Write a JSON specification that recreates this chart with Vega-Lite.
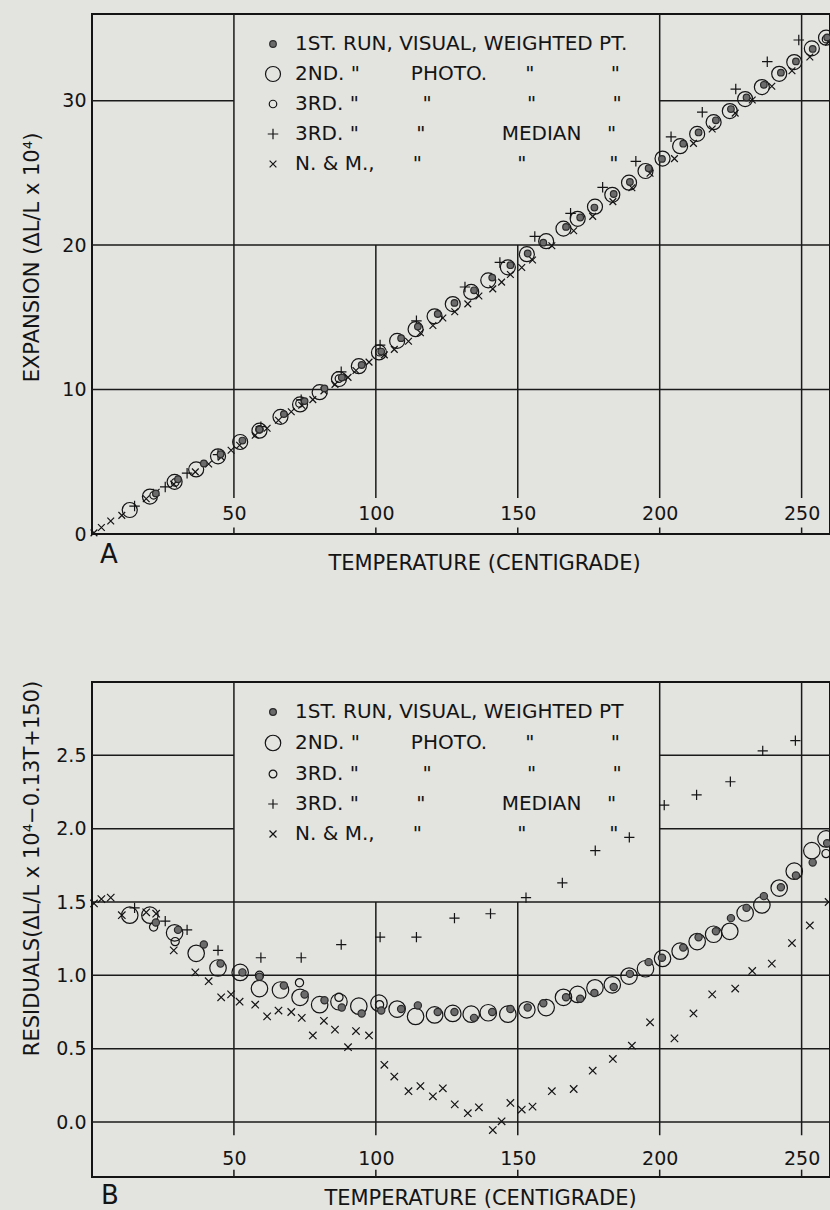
{
"$schema": "https://vega.github.io/schema/vega-lite/v6.json",
"background": "#e3e3e0",
"padding": {"left": 19, "top": 12, "right": 2, "bottom": 0},
"spacing": 148,
"bounds": "flush",
"config": {
  "font": "DejaVu Sans",
  "view": {"stroke": "#141414", "strokeWidth": 2},
  "axis": {"labelFont": "DejaVu Sans", "labelFontSize": 19, "labelColor": "#141414", "titleFont": "DejaVu Sans", "titleFontSize": 21, "titleFontWeight": "normal", "titleColor": "#141414", "grid": false, "ticks": false, "tickSize": 0, "domain": false},
  "legend": {"labelFont": "DejaVu Sans", "labelFontSize": 20, "labelColor": "#141414", "labelLimit": 700, "padding": 0, "rowPadding": 10, "labelOffset": 12, "symbolStrokeWidth": 1.2, "symbolOpacity": 1}
},
"resolve": {"scale": {"shape": "independent", "fill": "independent", "stroke": "independent"}, "legend": {"shape": "independent", "fill": "independent", "stroke": "independent"}},
"datasets": {
  "gridA": [
    {"x1": 50, "x2": 50, "y1": 2.5, "y2": 36}, {"x1": 100, "x2": 100, "y1": 2.5, "y2": 20}, {"x1": 150, "x2": 150, "y1": 2.5, "y2": 20}, {"x1": 200, "x2": 200, "y1": 2.5, "y2": 36}, {"x1": 250, "x2": 250, "y1": 2.5, "y2": 36},
    {"x1": 50, "x2": 50, "y1": 0, "y2": 0.45}, {"x1": 100, "x2": 100, "y1": 0, "y2": 0.45}, {"x1": 150, "x2": 150, "y1": 0, "y2": 0.45}, {"x1": 200, "x2": 200, "y1": 0, "y2": 0.45}, {"x1": 250, "x2": 250, "y1": 0, "y2": 0.45},
    {"x1": 0, "x2": 260, "y1": 10, "y2": 10}, {"x1": 0, "x2": 260, "y1": 20, "y2": 20}, {"x1": 0, "x2": 50, "y1": 30, "y2": 30}, {"x1": 200, "x2": 260, "y1": 30, "y2": 30}
  ],
  "gridB": [
    {"x1": 50, "x2": 50, "y1": -0.09, "y2": 3.0}, {"x1": 100, "x2": 100, "y1": -0.09, "y2": 1.5}, {"x1": 150, "x2": 150, "y1": -0.09, "y2": 1.5}, {"x1": 200, "x2": 200, "y1": -0.09, "y2": 3.0}, {"x1": 250, "x2": 250, "y1": -0.09, "y2": 3.0},
    {"x1": 50, "x2": 50, "y1": -0.375, "y2": -0.325}, {"x1": 100, "x2": 100, "y1": -0.375, "y2": -0.325}, {"x1": 150, "x2": 150, "y1": -0.375, "y2": -0.325}, {"x1": 200, "x2": 200, "y1": -0.375, "y2": -0.325}, {"x1": 250, "x2": 250, "y1": -0.375, "y2": -0.325},
    {"x1": 0, "x2": 260, "y1": 0, "y2": 0}, {"x1": 0, "x2": 260, "y1": 0.5, "y2": 0.5}, {"x1": 0, "x2": 260, "y1": 1.0, "y2": 1.0}, {"x1": 0, "x2": 260, "y1": 1.5, "y2": 1.5},
    {"x1": 0, "x2": 50, "y1": 2.0, "y2": 2.0}, {"x1": 200, "x2": 260, "y1": 2.0, "y2": 2.0}, {"x1": 0, "x2": 50, "y1": 2.5, "y2": 2.5}, {"x1": 200, "x2": 260, "y1": 2.5, "y2": 2.5}
  ],
  "ptsA": [
    {"s":"2nd","t":13.3,"v":1.66},{"s":"2nd","t":20.4,"v":2.59},{"s":"2nd","t":29.1,"v":3.61},{"s":"2nd","t":36.7,"v":4.47},{"s":"2nd","t":44.4,"v":5.38},{"s":"2nd","t":52.2,"v":6.37},{"s":"2nd","t":59.0,"v":7.15},{"s":"2nd","t":66.4,"v":8.11},{"s":"2nd","t":73.3,"v":8.97},{"s":"2nd","t":80.2,"v":9.82},{"s":"2nd","t":87.0,"v":10.73},{"s":"2nd","t":94.0,"v":11.62},{"s":"2nd","t":101.1,"v":12.57},{"s":"2nd","t":107.5,"v":13.37},{"s":"2nd","t":114.0,"v":14.18},{"s":"2nd","t":120.7,"v":15.07},{"s":"2nd","t":127.1,"v":15.92},{"s":"2nd","t":133.6,"v":16.76},{"s":"2nd","t":139.6,"v":17.56},{"s":"2nd","t":146.5,"v":18.46},{"s":"2nd","t":153.2,"v":19.37},{"s":"2nd","t":160.0,"v":20.27},{"s":"2nd","t":166.1,"v":21.14},{"s":"2nd","t":171.1,"v":21.82},{"s":"2nd","t":177.2,"v":22.66},{"s":"2nd","t":183.3,"v":23.48},{"s":"2nd","t":189.2,"v":24.32},{"s":"2nd","t":195.0,"v":25.13},{"s":"2nd","t":201.0,"v":25.99},{"s":"2nd","t":207.2,"v":26.85},{"s":"2nd","t":213.2,"v":27.70},{"s":"2nd","t":219.0,"v":28.51},{"s":"2nd","t":224.7,"v":29.28},{"s":"2nd","t":230.1,"v":30.11},{"s":"2nd","t":236.0,"v":30.94},{"s":"2nd","t":242.1,"v":31.86},{"s":"2nd","t":247.4,"v":32.67},{"s":"2nd","t":253.6,"v":33.62},{"s":"2nd","t":258.6,"v":34.36},
    {"s":"3rdp","t":21.7,"v":2.68},{"s":"3rdp","t":29.3,"v":3.57},{"s":"3rdp","t":59.0,"v":7.24},{"s":"3rdp","t":73.1,"v":9.04},{"s":"3rdp","t":87.0,"v":10.76},{"s":"3rdp","t":101.3,"v":12.59},{"s":"3rdp","t":258.6,"v":34.26},
    {"s":"nm","t":0.7,"v":0.08},{"s":"nm","t":3.3,"v":0.45},{"s":"nm","t":6.6,"v":0.90},{"s":"nm","t":10.5,"v":1.29},{"s":"nm","t":19.1,"v":2.44},{"s":"nm","t":22.6,"v":2.89},{"s":"nm","t":28.8,"v":3.45},{"s":"nm","t":36.4,"v":4.30},{"s":"nm","t":41.1,"v":4.85},{"s":"nm","t":45.5,"v":5.32},{"s":"nm","t":49.0,"v":5.80},{"s":"nm","t":52.0,"v":6.14},{"s":"nm","t":57.5,"v":6.84},{"s":"nm","t":61.7,"v":7.32},{"s":"nm","t":65.7,"v":7.88},{"s":"nm","t":70.2,"v":8.46},{"s":"nm","t":73.9,"v":8.91},{"s":"nm","t":77.8,"v":9.30},{"s":"nm","t":81.7,"v":9.91},{"s":"nm","t":85.6,"v":10.36},{"s":"nm","t":90.2,"v":10.84},{"s":"nm","t":93.0,"v":11.32},{"s":"nm","t":97.6,"v":11.90},{"s":"nm","t":103.0,"v":12.40},{"s":"nm","t":106.5,"v":12.78},{"s":"nm","t":111.5,"v":13.34},{"s":"nm","t":115.7,"v":13.93},{"s":"nm","t":120.1,"v":14.43},{"s":"nm","t":123.6,"v":14.95},{"s":"nm","t":127.8,"v":15.39},{"s":"nm","t":132.4,"v":15.93},{"s":"nm","t":136.3,"v":16.48},{"s":"nm","t":141.2,"v":16.97},{"s":"nm","t":144.3,"v":17.44},{"s":"nm","t":147.4,"v":17.97},{"s":"nm","t":151.4,"v":18.45},{"s":"nm","t":155.2,"v":18.97},{"s":"nm","t":162.0,"v":19.96},{"s":"nm","t":169.7,"v":20.99},{"s":"nm","t":176.4,"v":21.99},{"s":"nm","t":183.5,"v":23.01},{"s":"nm","t":190.2,"v":23.97},{"s":"nm","t":196.6,"v":24.97},{"s":"nm","t":205.2,"v":25.99},{"s":"nm","t":211.9,"v":27.04},{"s":"nm","t":218.5,"v":28.04},{"s":"nm","t":226.6,"v":29.14},{"s":"nm","t":232.6,"v":30.05},{"s":"nm","t":239.5,"v":31.00},{"s":"nm","t":246.6,"v":32.07},{"s":"nm","t":252.9,"v":33.02},{"s":"nm","t":259.5,"v":34.05},
    {"s":"med","t":15.0,"v":1.93},{"s":"med","t":25.8,"v":3.26},{"s":"med","t":33.5,"v":4.21},{"s":"med","t":44.4,"v":5.50},{"s":"med","t":59.5,"v":7.43},{"s":"med","t":73.7,"v":9.29},{"s":"med","t":87.8,"v":11.23},{"s":"med","t":101.5,"v":13.08},{"s":"med","t":114.3,"v":14.76},{"s":"med","t":131.4,"v":17.1},{"s":"med","t":143.7,"v":18.8},{"s":"med","t":156.0,"v":20.6},{"s":"med","t":168.6,"v":22.2},{"s":"med","t":179.9,"v":24.0},{"s":"med","t":191.6,"v":25.8},{"s":"med","t":204.0,"v":27.5},{"s":"med","t":215.0,"v":29.2},{"s":"med","t":226.8,"v":30.8},{"s":"med","t":237.9,"v":32.7},{"s":"med","t":249.0,"v":34.2},
    {"s":"1st","t":22.5,"v":2.81},{"s":"1st","t":30.3,"v":3.79},{"s":"1st","t":39.4,"v":4.88},{"s":"1st","t":45.3,"v":5.52},{"s":"1st","t":53.0,"v":6.47},{"s":"1st","t":59.0,"v":7.23},{"s":"1st","t":67.6,"v":8.30},{"s":"1st","t":74.9,"v":9.20},{"s":"1st","t":81.9,"v":10.08},{"s":"1st","t":88.0,"v":10.83},{"s":"1st","t":95.0,"v":11.70},{"s":"1st","t":101.9,"v":12.63},{"s":"1st","t":108.9,"v":13.56},{"s":"1st","t":114.8,"v":14.36},{"s":"1st","t":121.8,"v":15.23},{"s":"1st","t":127.7,"v":16.00},{"s":"1st","t":134.6,"v":16.87},{"s":"1st","t":141.0,"v":17.75},{"s":"1st","t":147.4,"v":18.61},{"s":"1st","t":153.5,"v":19.42},{"s":"1st","t":159.0,"v":20.17},{"s":"1st","t":167.0,"v":21.26},{"s":"1st","t":172.0,"v":21.91},{"s":"1st","t":177.0,"v":22.60},{"s":"1st","t":183.8,"v":23.54},{"s":"1st","t":189.5,"v":24.37},{"s":"1st","t":196.1,"v":25.32},{"s":"1st","t":200.8,"v":25.97},{"s":"1st","t":208.3,"v":27.02},{"s":"1st","t":213.7,"v":27.80},{"s":"1st","t":219.8,"v":28.64},{"s":"1st","t":225.1,"v":29.42},{"s":"1st","t":230.6,"v":30.22},{"s":"1st","t":236.7,"v":31.10},{"s":"1st","t":242.7,"v":31.94},{"s":"1st","t":248.0,"v":32.72},{"s":"1st","t":253.9,"v":33.58},{"s":"1st","t":259.0,"v":34.38}
  ],
  "ptsB": [
    {"s":"2nd","t":13.3,"v":1.41},{"s":"2nd","t":20.4,"v":1.41},{"s":"2nd","t":29.1,"v":1.29},{"s":"2nd","t":36.7,"v":1.15},{"s":"2nd","t":44.4,"v":1.05},{"s":"2nd","t":52.2,"v":1.02},{"s":"2nd","t":59.0,"v":0.91},{"s":"2nd","t":66.4,"v":0.90},{"s":"2nd","t":73.3,"v":0.85},{"s":"2nd","t":80.2,"v":0.80},{"s":"2nd","t":87.0,"v":0.82},{"s":"2nd","t":94.0,"v":0.79},{"s":"2nd","t":101.1,"v":0.81},{"s":"2nd","t":107.5,"v":0.77},{"s":"2nd","t":114.0,"v":0.72},{"s":"2nd","t":120.7,"v":0.73},{"s":"2nd","t":127.1,"v":0.74},{"s":"2nd","t":133.6,"v":0.735},{"s":"2nd","t":139.6,"v":0.745},{"s":"2nd","t":146.5,"v":0.735},{"s":"2nd","t":153.2,"v":0.765},{"s":"2nd","t":160.0,"v":0.78},{"s":"2nd","t":166.1,"v":0.85},{"s":"2nd","t":171.1,"v":0.87},{"s":"2nd","t":177.2,"v":0.915},{"s":"2nd","t":183.3,"v":0.935},{"s":"2nd","t":189.2,"v":0.995},{"s":"2nd","t":195.0,"v":1.045},{"s":"2nd","t":201.0,"v":1.115},{"s":"2nd","t":207.2,"v":1.165},{"s":"2nd","t":213.2,"v":1.23},{"s":"2nd","t":219.0,"v":1.28},{"s":"2nd","t":224.7,"v":1.30},{"s":"2nd","t":230.1,"v":1.425},{"s":"2nd","t":236.0,"v":1.48},{"s":"2nd","t":242.1,"v":1.595},{"s":"2nd","t":247.4,"v":1.71},{"s":"2nd","t":253.6,"v":1.85},{"s":"2nd","t":258.6,"v":1.93},
    {"s":"3rdp","t":21.7,"v":1.33},{"s":"3rdp","t":29.3,"v":1.23},{"s":"3rdp","t":59.0,"v":1.00},{"s":"3rdp","t":73.1,"v":0.95},{"s":"3rdp","t":87.0,"v":0.85},{"s":"3rdp","t":101.3,"v":0.80},{"s":"3rdp","t":258.6,"v":1.83},
    {"s":"nm","t":0.7,"v":1.49},{"s":"nm","t":3.3,"v":1.52},{"s":"nm","t":6.6,"v":1.53},{"s":"nm","t":10.5,"v":1.41},{"s":"nm","t":19.1,"v":1.43},{"s":"nm","t":22.6,"v":1.42},{"s":"nm","t":28.8,"v":1.17},{"s":"nm","t":36.4,"v":1.02},{"s":"nm","t":41.1,"v":0.96},{"s":"nm","t":45.5,"v":0.85},{"s":"nm","t":49.0,"v":0.87},{"s":"nm","t":52.0,"v":0.82},{"s":"nm","t":57.5,"v":0.80},{"s":"nm","t":61.7,"v":0.72},{"s":"nm","t":65.7,"v":0.76},{"s":"nm","t":70.2,"v":0.75},{"s":"nm","t":73.9,"v":0.71},{"s":"nm","t":77.8,"v":0.59},{"s":"nm","t":81.7,"v":0.69},{"s":"nm","t":85.6,"v":0.63},{"s":"nm","t":90.2,"v":0.51},{"s":"nm","t":93.0,"v":0.62},{"s":"nm","t":97.6,"v":0.59},{"s":"nm","t":103.0,"v":0.39},{"s":"nm","t":106.5,"v":0.31},{"s":"nm","t":111.5,"v":0.21},{"s":"nm","t":115.7,"v":0.245},{"s":"nm","t":120.1,"v":0.175},{"s":"nm","t":123.6,"v":0.23},{"s":"nm","t":127.8,"v":0.12},{"s":"nm","t":132.4,"v":0.06},{"s":"nm","t":136.3,"v":0.10},{"s":"nm","t":141.2,"v":-0.055},{"s":"nm","t":144.3,"v":0.005},{"s":"nm","t":147.4,"v":0.13},{"s":"nm","t":151.4,"v":0.085},{"s":"nm","t":155.2,"v":0.105},{"s":"nm","t":162.0,"v":0.21},{"s":"nm","t":169.7,"v":0.225},{"s":"nm","t":176.4,"v":0.35},{"s":"nm","t":183.5,"v":0.43},{"s":"nm","t":190.2,"v":0.52},{"s":"nm","t":196.6,"v":0.68},{"s":"nm","t":205.2,"v":0.57},{"s":"nm","t":211.9,"v":0.74},{"s":"nm","t":218.5,"v":0.87},{"s":"nm","t":226.6,"v":0.91},{"s":"nm","t":232.6,"v":1.03},{"s":"nm","t":239.5,"v":1.08},{"s":"nm","t":246.6,"v":1.22},{"s":"nm","t":252.9,"v":1.34},{"s":"nm","t":259.5,"v":1.50},
    {"s":"med","t":15.0,"v":1.46},{"s":"med","t":25.8,"v":1.37},{"s":"med","t":33.5,"v":1.31},{"s":"med","t":44.4,"v":1.17},{"s":"med","t":59.5,"v":1.12},{"s":"med","t":73.7,"v":1.12},{"s":"med","t":87.8,"v":1.21},{"s":"med","t":101.5,"v":1.26},{"s":"med","t":114.3,"v":1.26},{"s":"med","t":127.7,"v":1.39},{"s":"med","t":140.4,"v":1.42},{"s":"med","t":152.9,"v":1.53},{"s":"med","t":165.7,"v":1.63},{"s":"med","t":177.3,"v":1.85},{"s":"med","t":189.3,"v":1.94},{"s":"med","t":201.6,"v":2.16},{"s":"med","t":213.0,"v":2.23},{"s":"med","t":224.9,"v":2.32},{"s":"med","t":236.3,"v":2.53},{"s":"med","t":247.8,"v":2.60},
    {"s":"1st","t":22.5,"v":1.36},{"s":"1st","t":30.3,"v":1.31},{"s":"1st","t":39.4,"v":1.21},{"s":"1st","t":45.3,"v":1.08},{"s":"1st","t":53.0,"v":1.02},{"s":"1st","t":59.0,"v":0.99},{"s":"1st","t":67.6,"v":0.93},{"s":"1st","t":74.9,"v":0.87},{"s":"1st","t":81.9,"v":0.83},{"s":"1st","t":88.0,"v":0.78},{"s":"1st","t":95.0,"v":0.74},{"s":"1st","t":101.9,"v":0.76},{"s":"1st","t":108.9,"v":0.77},{"s":"1st","t":114.8,"v":0.795},{"s":"1st","t":121.8,"v":0.75},{"s":"1st","t":127.7,"v":0.75},{"s":"1st","t":134.6,"v":0.71},{"s":"1st","t":141.0,"v":0.75},{"s":"1st","t":147.4,"v":0.77},{"s":"1st","t":153.5,"v":0.78},{"s":"1st","t":159.0,"v":0.81},{"s":"1st","t":167.0,"v":0.85},{"s":"1st","t":172.0,"v":0.84},{"s":"1st","t":177.0,"v":0.88},{"s":"1st","t":183.8,"v":0.92},{"s":"1st","t":189.5,"v":1.01},{"s":"1st","t":196.1,"v":1.09},{"s":"1st","t":200.8,"v":1.12},{"s":"1st","t":208.3,"v":1.19},{"s":"1st","t":213.7,"v":1.26},{"s":"1st","t":219.8,"v":1.30},{"s":"1st","t":225.1,"v":1.39},{"s":"1st","t":230.6,"v":1.46},{"s":"1st","t":236.7,"v":1.54},{"s":"1st","t":242.7,"v":1.60},{"s":"1st","t":248.0,"v":1.68},{"s":"1st","t":253.9,"v":1.77},{"s":"1st","t":259.0,"v":1.90}
  ]
},
"vconcat": [
  {
    "width": 738, "height": 520,
    "title": {"text": "A", "orient": "bottom", "anchor": "start", "frame": "group", "fontSize": 26, "fontWeight": "normal", "color": "#141414", "offset": -31, "dx": 8},
    "layer": [
      {"data": {"name": "gridA"}, "mark": {"type": "rule", "color": "#1a1a1a", "strokeWidth": 1.5},
       "encoding": {
         "x": {"field": "x1", "type": "quantitative", "scale": {"domain": [0, 260], "nice": false, "zero": false}, "axis": {"values": [50, 100, 150, 200, 250], "title": "TEMPERATURE (CENTIGRADE)", "labelPadding": -21, "labelBaseline": "middle", "titleX": 392, "titleY": 29, "titleBaseline": "middle"}},
         "x2": {"field": "x2"},
         "y": {"field": "y1", "type": "quantitative", "scale": {"domain": [0, 36], "nice": false}, "axis": {"values": [0, 10, 20, 30], "title": "EXPANSION (ΔL/L x 10⁴)", "labelPadding": 6, "titleAngle": -90, "titleX": -60, "titleY": 243, "titleBaseline": "middle", "titleAlign": "center"}},
         "y2": {"field": "y2"}}},
      {"data": {"name": "ptsA"}, "mark": {"type": "point", "opacity": 1, "strokeWidth": 1.2, "size": 225},
       "encoding": {
         "x": {"field": "t", "type": "quantitative", "scale": {"domain": [0, 260], "nice": false, "zero": false}, "axis": {"values": [50, 100, 150, 200, 250], "title": "TEMPERATURE (CENTIGRADE)", "labelPadding": -21, "labelBaseline": "middle", "titleX": 392, "titleY": 29, "titleBaseline": "middle"}},
         "y": {"field": "v", "type": "quantitative", "scale": {"domain": [0, 36], "nice": false}, "axis": {"values": [0, 10, 20, 30], "title": "EXPANSION (ΔL/L x 10⁴)", "labelPadding": 6, "titleAngle": -90, "titleX": -60, "titleY": 243, "titleBaseline": "middle", "titleAlign": "center"}},
         "shape": {"field": "s", "type": "nominal", "scale": {"domain": ["1st", "2nd", "3rdp", "med", "nm"], "range": ["M-0.44,0A0.44,0.44,0,1,0,0.44,0A0.44,0.44,0,1,0,-0.44,0Z", "M-1,0A1,1,0,1,0,1,0A1,1,0,1,0,-1,0Z", "M-0.5,0A0.5,0.5,0,1,0,0.5,0A0.5,0.5,0,1,0,-0.5,0Z", "M-0.7,0H0.7M0,-0.7V0.7", "M-0.45,-0.45L0.45,0.45M0.45,-0.45L-0.45,0.45"]},
           "legend": {"orient": "none", "legendX": 171, "legendY": 20, "title": null, "symbolSize": 225, "labelExpr": "datum.label == '1st' ? '1ST. RUN, VISUAL, WEIGHTED PT.' : datum.label == '2nd' ? '2ND.\u00a0\"\u00a0\u00a0\u00a0\u00a0\u00a0\u00a0\u00a0\u00a0PHOTO.\u00a0\u00a0\u00a0\u00a0\u00a0\u00a0\"\u00a0\u00a0\u00a0\u00a0\u00a0\u00a0\u00a0\u00a0\u00a0\u00a0\u00a0\u00a0\"' : datum.label == '3rdp' ? '3RD.\u00a0\"\u00a0\u00a0\u00a0\u00a0\u00a0\u00a0\u00a0\u00a0\u00a0\u00a0\"\u00a0\u00a0\u00a0\u00a0\u00a0\u00a0\u00a0\u00a0\u00a0\u00a0\u00a0\u00a0\u00a0\u00a0\u00a0\"\u00a0\u00a0\u00a0\u00a0\u00a0\u00a0\u00a0\u00a0\u00a0\u00a0\u00a0\u00a0\"' : datum.label == 'med' ? '3RD.\u00a0\"\u00a0\u00a0\u00a0\u00a0\u00a0\u00a0\u00a0\u00a0\u00a0\"\u00a0\u00a0\u00a0\u00a0\u00a0\u00a0\u00a0\u00a0\u00a0\u00a0\u00a0\u00a0MEDIAN\u00a0\u00a0\u00a0\u00a0\"' : 'N. & M.,\u00a0\u00a0\u00a0\u00a0\u00a0\u00a0\"\u00a0\u00a0\u00a0\u00a0\u00a0\u00a0\u00a0\u00a0\u00a0\u00a0\u00a0\u00a0\u00a0\u00a0\u00a0\"\u00a0\u00a0\u00a0\u00a0\u00a0\u00a0\u00a0\u00a0\u00a0\u00a0\u00a0\u00a0\u00a0\"'"}},
         "fill": {"field": "s", "type": "nominal", "scale": {"domain": ["1st", "2nd", "3rdp", "med", "nm"], "range": ["#6b6b6b", "transparent", "transparent", "transparent", "transparent"]}},
         "stroke": {"field": "s", "type": "nominal", "scale": {"domain": ["1st", "2nd", "3rdp", "med", "nm"], "range": ["#2b2b2b", "#141414", "#141414", "#141414", "#141414"]}}
       }}
    ]
  },
  {
    "width": 738, "height": 495,
    "title": {"text": "B", "orient": "bottom", "anchor": "start", "frame": "group", "fontSize": 26, "fontWeight": "normal", "color": "#141414", "offset": -25, "dx": 9},
    "layer": [
      {"data": {"name": "gridB"}, "mark": {"type": "rule", "color": "#1a1a1a", "strokeWidth": 1.5},
       "encoding": {
         "x": {"field": "x1", "type": "quantitative", "scale": {"domain": [0, 260], "nice": false, "zero": false}, "axis": {"values": [50, 100, 150, 200, 250], "title": "TEMPERATURE (CENTIGRADE)", "labelPadding": -19, "labelBaseline": "middle", "titleX": 388, "titleY": 21, "titleBaseline": "middle"}},
         "x2": {"field": "x2"},
         "y": {"field": "y1", "type": "quantitative", "scale": {"domain": [-0.375, 3.0], "nice": false, "zero": false}, "axis": {"values": [0, 0.5, 1, 1.5, 2, 2.5], "format": ".1f", "title": "RESIDUALS(ΔL/L x 10⁴−0.13T+150)", "labelPadding": 6, "titleAngle": -90, "titleX": -60, "titleY": 186, "titleBaseline": "middle", "titleAlign": "center"}},
         "y2": {"field": "y2"}}},
      {"data": {"name": "ptsB"}, "mark": {"type": "point", "opacity": 1, "strokeWidth": 1.2, "size": 272},
       "encoding": {
         "x": {"field": "t", "type": "quantitative", "scale": {"domain": [0, 260], "nice": false, "zero": false}, "axis": {"values": [50, 100, 150, 200, 250], "title": "TEMPERATURE (CENTIGRADE)", "labelPadding": -19, "labelBaseline": "middle", "titleX": 388, "titleY": 21, "titleBaseline": "middle"}},
         "y": {"field": "v", "type": "quantitative", "scale": {"domain": [-0.375, 3.0], "nice": false, "zero": false}, "axis": {"values": [0, 0.5, 1, 1.5, 2, 2.5], "format": ".1f", "title": "RESIDUALS(ΔL/L x 10⁴−0.13T+150)", "labelPadding": 6, "titleAngle": -90, "titleX": -60, "titleY": 186, "titleBaseline": "middle", "titleAlign": "center"}},
         "shape": {"field": "s", "type": "nominal", "scale": {"domain": ["1st", "2nd", "3rdp", "med", "nm"], "range": ["M-0.44,0A0.44,0.44,0,1,0,0.44,0A0.44,0.44,0,1,0,-0.44,0Z", "M-1,0A1,1,0,1,0,1,0A1,1,0,1,0,-1,0Z", "M-0.5,0A0.5,0.5,0,1,0,0.5,0A0.5,0.5,0,1,0,-0.5,0Z", "M-0.62,0H0.62M0,-0.62V0.62", "M-0.45,-0.45L0.45,0.45M0.45,-0.45L-0.45,0.45"]},
           "legend": {"orient": "none", "legendX": 171, "legendY": 20, "title": null, "symbolSize": 240, "labelExpr": "datum.label == '1st' ? '1ST. RUN, VISUAL, WEIGHTED PT' : datum.label == '2nd' ? '2ND.\u00a0\"\u00a0\u00a0\u00a0\u00a0\u00a0\u00a0\u00a0\u00a0PHOTO.\u00a0\u00a0\u00a0\u00a0\u00a0\u00a0\"\u00a0\u00a0\u00a0\u00a0\u00a0\u00a0\u00a0\u00a0\u00a0\u00a0\u00a0\u00a0\"' : datum.label == '3rdp' ? '3RD.\u00a0\"\u00a0\u00a0\u00a0\u00a0\u00a0\u00a0\u00a0\u00a0\u00a0\u00a0\"\u00a0\u00a0\u00a0\u00a0\u00a0\u00a0\u00a0\u00a0\u00a0\u00a0\u00a0\u00a0\u00a0\u00a0\u00a0\"\u00a0\u00a0\u00a0\u00a0\u00a0\u00a0\u00a0\u00a0\u00a0\u00a0\u00a0\u00a0\"' : datum.label == 'med' ? '3RD.\u00a0\"\u00a0\u00a0\u00a0\u00a0\u00a0\u00a0\u00a0\u00a0\u00a0\"\u00a0\u00a0\u00a0\u00a0\u00a0\u00a0\u00a0\u00a0\u00a0\u00a0\u00a0\u00a0MEDIAN\u00a0\u00a0\u00a0\u00a0\"' : 'N. & M.,\u00a0\u00a0\u00a0\u00a0\u00a0\u00a0\"\u00a0\u00a0\u00a0\u00a0\u00a0\u00a0\u00a0\u00a0\u00a0\u00a0\u00a0\u00a0\u00a0\u00a0\u00a0\"\u00a0\u00a0\u00a0\u00a0\u00a0\u00a0\u00a0\u00a0\u00a0\u00a0\u00a0\u00a0\u00a0\"'"}},
         "fill": {"field": "s", "type": "nominal", "scale": {"domain": ["1st", "2nd", "3rdp", "med", "nm"], "range": ["#6b6b6b", "transparent", "transparent", "transparent", "transparent"]}},
         "stroke": {"field": "s", "type": "nominal", "scale": {"domain": ["1st", "2nd", "3rdp", "med", "nm"], "range": ["#2b2b2b", "#141414", "#141414", "#141414", "#141414"]}}
       }}
    ]
  }
]
}
